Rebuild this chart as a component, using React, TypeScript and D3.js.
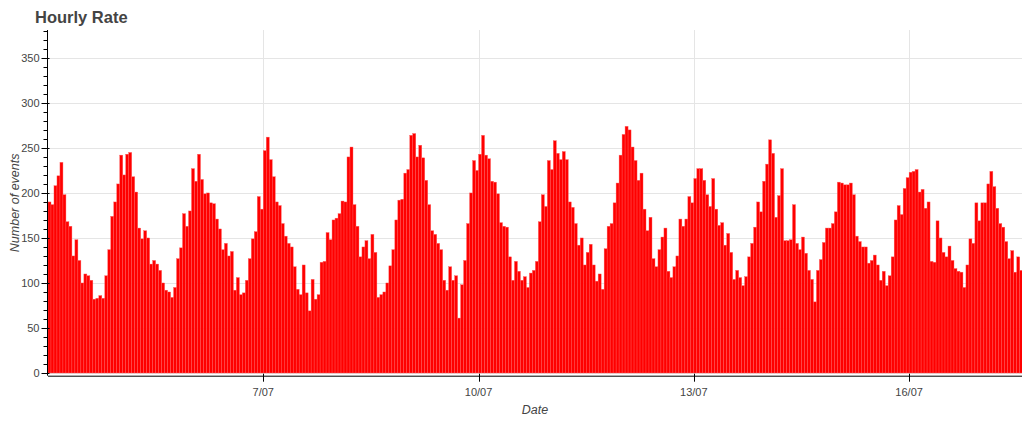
import React from 'react';
import * as d3 from 'd3';

// Hourly event counts, one array per day (UTC hours 0..23)
const day04 = [190, 187, 208, 219, 234, 198, 168, 163, 130, 148, 125, 100, 110, 108, 103, 82, 83, 86, 83, 108, 137, 174, 190, 210];
const day05 = [242, 220, 243, 245, 218, 201, 161, 149, 158, 150, 121, 125, 121, 114, 100, 92, 90, 84, 95, 127, 139, 177, 163, 180];
const day06 = [227, 213, 243, 215, 199, 200, 189, 188, 171, 160, 137, 144, 130, 135, 92, 106, 87, 89, 103, 127, 149, 157, 196, 182];
const day07 = [247, 262, 237, 218, 190, 186, 166, 152, 144, 140, 118, 93, 87, 120, 89, 69, 104, 82, 87, 123, 124, 156, 148, 170];
const day08 = [172, 177, 191, 190, 240, 251, 187, 163, 129, 140, 147, 127, 154, 134, 84, 87, 90, 100, 119, 137, 170, 192, 193, 222];
const day09 = [226, 264, 266, 240, 253, 239, 214, 187, 158, 154, 144, 137, 103, 92, 118, 103, 108, 61, 98, 125, 166, 200, 236, 225];
const day10 = [243, 264, 242, 238, 213, 212, 199, 167, 163, 162, 129, 103, 124, 113, 103, 107, 95, 111, 114, 124, 168, 198, 185, 236];
const day11 = [226, 258, 244, 237, 246, 237, 190, 184, 166, 142, 150, 120, 134, 143, 120, 102, 110, 93, 138, 163, 166, 189, 211, 242];
const day12 = [265, 274, 270, 251, 236, 214, 222, 182, 158, 173, 127, 118, 137, 151, 161, 113, 106, 118, 130, 171, 163, 171, 196, 189];
const day13 = [216, 227, 227, 214, 198, 185, 216, 182, 164, 167, 142, 155, 134, 104, 114, 106, 97, 107, 129, 144, 162, 190, 179, 213];
const day14 = [232, 259, 244, 173, 197, 227, 147, 147, 148, 187, 144, 137, 151, 133, 114, 104, 79, 114, 126, 145, 161, 161, 166, 179];
const day15 = [212, 211, 209, 209, 211, 198, 152, 146, 140, 140, 122, 125, 131, 120, 103, 113, 97, 108, 129, 170, 186, 176, 205, 217];
const day16 = [223, 224, 226, 201, 204, 183, 190, 124, 123, 169, 150, 134, 129, 141, 125, 116, 113, 112, 95, 120, 149, 144, 189, 169];
const day17 = [189, 189, 210, 224, 207, 183, 166, 162, 146, 127, 136, 112, 129, 114];

const yTicks = [0, 50, 100, 150, 200, 250, 300, 350];
const xTickDays = [7, 10, 13, 16];
const title = 'Hourly Rate';
const xLabel = 'Date';
const yLabel = 'Number of events';

const HOUR = 3600 * 1000;
const BASE = Date.UTC(2021, 6, 4);

export default function App() {
  const W = 1024;
  const H = 424;
  const left = 48;
  const right = 1022;
  const top = 30;
  const bottom = 375.7;

  const counts = [day04, day05, day06, day07, day08, day09, day10, day11, day12, day13, day14, day15, day16, day17].flat();
  const bars = counts.map((v, i) => ({ t0: new Date(BASE + i * HOUR), t1: new Date(BASE + (i + 1) * HOUR), v }));

  const x = d3.scaleUtc().domain([new Date(BASE), new Date(BASE + 325.75 * HOUR)]).range([left, right]);
  const y = d3.scaleLinear().domain([-3, 381]).range([bottom, top]);

  const xTicks = xTickDays.map((d) => new Date(Date.UTC(2021, 6, d)));
  const fmt = (d: Date) => `${d.getUTCDate()}/${String(d.getUTCMonth() + 1).padStart(2, '0')}`;
  const minor = d3.range(0, 381, 10).filter((v) => v % 50 !== 0);

  const font = '"Liberation Sans", Arial, Helvetica, sans-serif';
  const axisX = left - 0.5;

  return (
    <div style={{ position: 'absolute', left: 0, top: 0, width: W, height: H }}>
      <svg width={W} height={H} style={{ display: 'block', background: '#fff' }} fontFamily={font}>
        <defs>
          <clipPath id="plotclip">
            <rect x={left} y={top} width={right - left} height={bottom - top} />
          </clipPath>
        </defs>
        {/* grid */}
        {yTicks.map((t) => (
          <line key={'gy' + t} x1={left} x2={right} y1={Math.round(y(t)) + 0.5} y2={Math.round(y(t)) + 0.5} stroke="#e5e5e5" strokeWidth={1} />
        ))}
        {xTicks.map((t) => (
          <line key={'gx' + t.getTime()} x1={Math.round(x(t)) + 0.5} x2={Math.round(x(t)) + 0.5} y1={top} y2={bottom} stroke="#e5e5e5" strokeWidth={1} />
        ))}
        {/* bars */}
        <g clipPath="url(#plotclip)">
          {bars.map((b, i) => (
            <rect
              key={i}
              x={x(b.t0)}
              width={x(b.t1) - x(b.t0)}
              y={y(b.v)}
              height={y(0) - y(b.v)}
              fill="#ff0000"
              stroke="#ff5a5a"
              strokeWidth={0.4}
            />
          ))}
        </g>
        {/* y axis */}
        <line x1={axisX} x2={axisX} y1={top} y2={bottom} stroke="#000" strokeWidth={1} />
        {yTicks.map((t) => (
          <g key={'yt' + t}>
            <line x1={axisX - 6} x2={axisX + 2} y1={Math.round(y(t)) + 0.5} y2={Math.round(y(t)) + 0.5} stroke="#000" strokeWidth={1} />
            <text x={axisX - 8} y={y(t)} dy="0.35em" textAnchor="end" fontSize={11} fill="#444">{t}</text>
          </g>
        ))}
        {minor.map((t) => (
          <line key={'ym' + t} x1={axisX - 4} x2={axisX} y1={Math.round(y(t)) + 0.5} y2={Math.round(y(t)) + 0.5} stroke="#000" strokeWidth={1} />
        ))}
        <text
          transform={`translate(15,${(top + bottom) / 2}) rotate(-90)`}
          textAnchor="middle"
          dy="0.35em"
          fontSize={12.5}
          fontStyle="italic"
          fill="#444"
        >
          {yLabel}
        </text>
        {/* x axis */}
        <line x1={left} x2={right} y1={bottom + 0.5} y2={bottom + 0.5} stroke="#000" strokeWidth={1} />
        {xTicks.map((t) => (
          <g key={'xt' + t.getTime()}>
            <line x1={Math.round(x(t)) + 0.5} x2={Math.round(x(t)) + 0.5} y1={bottom - 2} y2={bottom + 6} stroke="#000" strokeWidth={1} />
            <text x={x(t)} y={bottom + 20} textAnchor="middle" fontSize={11} fill="#444">{fmt(t)}</text>
          </g>
        ))}
        <text x={(left + right) / 2} y={bottom + 38} textAnchor="middle" fontSize={12.5} fontStyle="italic" fill="#444">
          {xLabel}
        </text>
        {/* title */}
        <text x={35} y={23} fontSize={16.5} fontWeight="bold" fill="#444">{title}</text>
      </svg>
    </div>
  );
}
